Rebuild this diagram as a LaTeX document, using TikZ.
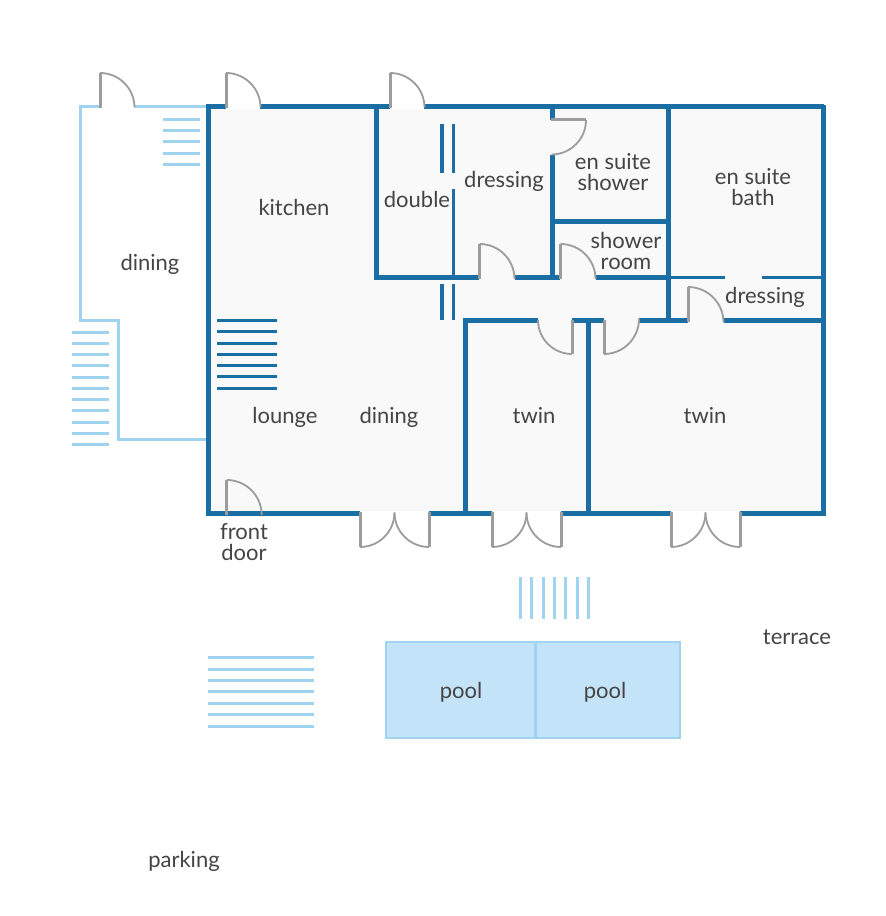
\documentclass[tikz,border=0pt]{standalone}
\usepackage{fontspec}
\setmainfont{Lato}
\definecolor{wallblue}{HTML}{1B6EA3}
\definecolor{paleblue}{HTML}{9FD3F0}
\definecolor{poolblue}{HTML}{C3E3F8}
\definecolor{floorgrey}{HTML}{F9F9F9}
\definecolor{doorgrey}{HTML}{9C9C9C}
\definecolor{labelgrey}{HTML}{444444}
\tikzset{
  wall/.style={line width=5pt,wallblue},
  thinwall/.style={line width=3.2pt,wallblue},
  terrace/.style={line width=3pt,paleblue},
  stairdark/.style={line width=3pt,wallblue},
  stairpale/.style={line width=3pt,paleblue},
  doorpost/.style={line width=3pt,doorgrey},
  doorarc/.style={line width=1.8pt,doorgrey},
  room/.style={font=\fontsize{22}{21}\selectfont,text=labelgrey,inner sep=0pt,align=center},
}
\begin{document}
\begin{tikzpicture}[x=1pt,y=1pt]
  \useasboundingbox (0,0) rectangle (886,916);
  \fill[floorgrey] (208,405) rectangle (823.5,806.5);
  \fill[floorgrey] (226,400) rectangle (262,405);

  % terrace room and pool
  \draw[terrace] (100,809) -- (80,809) -- (80,595.5) -- (118,595.5) -- (118,476.5) -- (208,476.5);
  \draw[terrace] (135,809) -- (208,809);
  \draw[line width=2.8pt,paleblue,fill=poolblue] (386,178) rectangle (680,274);
  \draw[terrace] (535,178) -- (535,274);

  % stairs
  \draw[stairpale] (163,796) -- (200,796) (163,785) -- (200,785) (163,774) -- (200,774)
                   (163,762.5) -- (200,762.5) (163,751) -- (200,751);
  \draw[stairpale] (72,583.7) -- (109,583.7) (72,572.5) -- (109,572.5) (72,561.2) -- (109,561.2)
                   (72,550) -- (109,550) (72,538.8) -- (109,538.8) (72,527.5) -- (109,527.5)
                   (72,516.3) -- (109,516.3) (72,505) -- (109,505) (72,493.8) -- (109,493.8)
                   (72,482.5) -- (109,482.5) (72,471.3) -- (109,471.3);
  \draw[stairdark] (217,595.3) -- (277,595.3) (217,584) -- (277,584) (217,572.8) -- (277,572.8)
                   (217,561.5) -- (277,561.5) (217,550.2) -- (277,550.2) (217,539) -- (277,539)
                   (217,527.7) -- (277,527.7);
  \draw[stairpale] (520.3,297) -- (520.3,339) (531.6,297) -- (531.6,339) (543,297) -- (543,339)
                   (554,297) -- (554,339) (565.3,297) -- (565.3,339) (577,297) -- (577,339)
                   (588.3,297) -- (588.3,339);
  \draw[stairpale] (208,258) -- (314,258) (208,246.5) -- (314,246.5) (208,235) -- (314,235)
                   (208,224) -- (314,224) (208,212) -- (314,212) (208,201) -- (314,201)
                   (208,189) -- (314,189);

  % walls
  \draw[wall] (226,809) -- (208,809) -- (208,402.7) -- (360,402.7);
  \draw[wall] (260,809) -- (390,809);
  \draw[wall] (424,809) -- (823.5,809);
  \draw[wall,line width=4.4pt] (823.5,811) -- (823.5,400.4);
  \draw[wall] (429,402.7) -- (492,402.7);
  \draw[wall] (561,402.7) -- (671,402.7);
  \draw[wall] (740,402.7) -- (825.5,402.7);
  \draw[wall] (376,809) -- (376,638) -- (479,638);
  \draw[wall] (515,638) -- (560,638);
  \draw[wall] (596,638) -- (668,638);
  \draw[wall] (552.3,809) -- (552.3,796);
  \draw[wall] (552.3,761) -- (552.3,638);
  \draw[wall] (552.3,694) -- (668,694);
  \draw[wall] (668,809) -- (668,595.3);
  \draw[wall] (538,595.3) -- (465,595.3) -- (465,402.7);
  \draw[wall] (572,595.3) -- (604,595.3);
  \draw[wall] (588.5,595.3) -- (588.5,402.7);
  \draw[wall] (639,595.3) -- (688,595.3);
  \draw[wall] (724,595.3) -- (823.5,595.3);

  % thin partitions
  \draw[thinwall] (453.7,727) -- (453.7,638);
  \draw[thinwall] (442,792) -- (442,743);
  \draw[thinwall] (453.7,792) -- (453.7,743);
  \draw[thinwall] (442,632) -- (442,596);
  \draw[thinwall] (453.7,632) -- (453.7,596);
  \draw[thinwall] (668,638.2) -- (725,638.2);
  \draw[thinwall] (762,638.2) -- (823.5,638.2);

  % doors
  \draw[doorpost] (100,808) -- (100,843); \draw[doorarc] (100,843) arc (90:0:34.5);
  \draw[doorpost] (226,808) -- (226,843); \draw[doorarc] (226,843) arc (90:0:34.5);
  \draw[doorpost] (390,808) -- (390,843); \draw[doorarc] (390,843) arc (90:0:34.5);
  \draw[doorpost] (479.5,637) -- (479.5,672); \draw[doorarc] (479.5,672) arc (90:0:35);
  \draw[doorpost] (560.5,637) -- (560.5,672); \draw[doorarc] (560.5,672) arc (90:0:35);
  \draw[doorpost] (688,594) -- (688,629); \draw[doorarc] (688,629) arc (90:0:35.5);
  \draw[doorpost] (226.7,401) -- (226.7,436); \draw[doorarc] (226.7,436) arc (90:0:35);
  \draw[doorpost] (551,796) -- (586,796); \draw[doorarc] (586,796) arc (0:-90:34.5);
  \draw[doorpost] (572,596) -- (572,562); \draw[doorarc] (572,562) arc (-90:-180:34);
  \draw[doorpost] (604,596) -- (604,562); \draw[doorarc] (604,562) arc (-90:0:35);
  \draw[doorpost] (360,404) -- (360,369); \draw[doorarc] (360,369) arc (-90:0:34.5);
  \draw[doorpost] (429,404) -- (429,369); \draw[doorarc] (429,369) arc (-90:-180:34.5);
  \draw[doorpost] (492,404) -- (492,369); \draw[doorarc] (492,369) arc (-90:0:34.5);
  \draw[doorpost] (561,404) -- (561,369); \draw[doorarc] (561,369) arc (-90:-180:34.5);
  \draw[doorpost] (671,404) -- (671,369); \draw[doorarc] (671,369) arc (-90:0:34.5);
  \draw[doorpost] (740,404) -- (740,369); \draw[doorarc] (740,369) arc (-90:-180:34.5);

  % labels
  \node[room] (kitchen)    at (294,709)   {kitchen};
  \node[room] (diningout)  at (150,652)   {dining};
  \node[room] (double)     at (417,717)   {double};
  \node[room] (dressingA)  at (504,735)   {dressing};
  \node[room] (ensuiteS)   at (613,744)   {en suite\\shower};
  \node[room] (ensuiteB)   at (753,729)   {en suite\\bath};
  \node[room] (showerroom) at (626,665.5) {shower\\room};
  \node[room] (dressingB)  at (765,619)   {dressing};
  \node[room] (lounge)     at (285,499)   {lounge};
  \node[room] (diningin)   at (389,499)   {dining};
  \node[room] (twinA)      at (534,500)   {twin};
  \node[room] (twinB)      at (705,500)   {twin};
  \node[room] (frontdoor)  at (244,373.5) {front\\door};
  \node[room] (terrace)    at (797,279)   {terrace};
  \node[room] (poolA)      at (461,224)   {pool};
  \node[room] (poolB)      at (605,224)   {pool};
  \node[room] (parking)    at (184,55)    {parking};
\end{tikzpicture}
\end{document}
